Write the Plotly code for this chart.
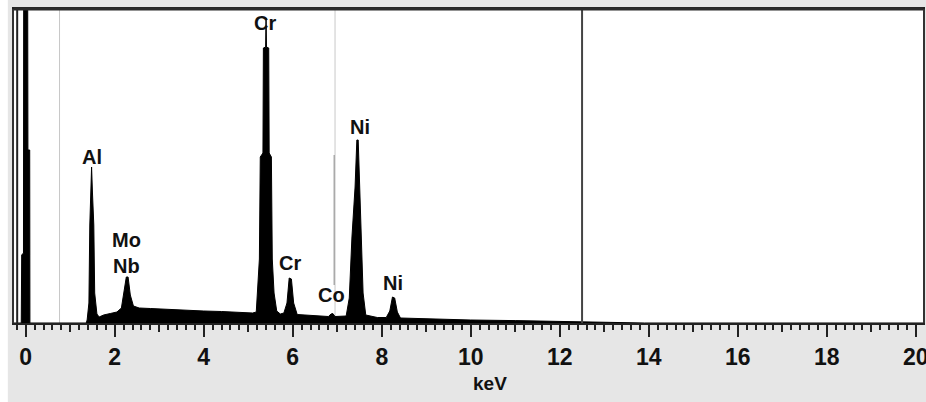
import plotly.graph_objects as go

# EDS spectrum: energy (keV) vs. counts
kev = [-0.263, -0.10, -0.09, -0.05, -0.045, 0.045, 0.05, 0.09, 0.095,
       1.36, 1.38, 1.42, 1.44, 1.46, 1.48, 1.50, 1.53, 1.55, 1.60,
       1.65, 1.75, 1.90, 2.05, 2.15, 2.21, 2.26, 2.30, 2.35, 2.42,
       2.55, 2.80, 3.20, 3.60, 4.00, 4.40, 4.80, 5.10,
       5.18, 5.22, 5.25, 5.27, 5.33, 5.34, 5.39, 5.40, 5.41, 5.46, 5.47,
       5.52, 5.54, 5.58, 5.64, 5.72,
       5.80, 5.87, 5.92, 5.97, 6.02, 6.10,
       6.40, 6.80, 6.86, 6.90, 6.95, 7.20,
       7.27, 7.33, 7.40, 7.44, 7.47, 7.51, 7.54, 7.58, 7.64,
       7.90, 8.10, 8.18, 8.24, 8.29, 8.35, 8.42,
       9.0, 10.0, 11.0, 12.0, 12.6, 13.4, 13.9, 20.16]
counts = [0, 0, 680, 700, 3300, 3300, 1730, 1730, 0,
          0, 30, 200, 980, 1300, 1560, 1300, 980, 300, 90,
          60, 80, 95, 110, 150, 300, 460, 460, 280, 170,
          150, 145, 135, 130, 120, 115, 105, 100,
          110, 400, 640, 1660, 1700, 2750, 2760, 3050, 2760, 2750, 1700,
          1660, 640, 300, 120, 90,
          100, 200, 450, 440, 200, 85,
          75, 65, 90, 95, 65, 70,
          250, 860, 1360, 1830, 1830, 1360, 860, 300, 80,
          55, 55, 120, 260, 250, 110, 50,
          40, 30, 24, 18, 12, 8, 0, 0]

# Element identification labels: (text, keV, counts position)
label_text = ["Al", "Mo", "Nb", "Cr", "Cr", "Co", "Ni", "Ni"]
label_kev = [1.49, 2.27, 2.27, 5.38, 5.94, 6.88, 7.51, 8.25]
label_pos = [1660, 830, 570, 3000, 600, 280, 1960, 400]

x_range = [-0.263, 20.16]
y_range = [0, 3140]
cursor_kev = 12.5
marker_kev = [0.76, 6.95]
co_marker = (6.93, 380, 1680)

FONT = "Liberation Sans, Arial, sans-serif"
INK = "#111111"

fig = go.Figure()

fig.add_trace(go.Scatter(
    x=kev, y=counts, mode="lines",
    line=dict(color="black", width=1),
    fill="tozeroy", fillcolor="black",
    hoverinfo="skip", showlegend=False,
))

# helper trace that carries the odd-keV tick axis
fig.add_trace(go.Scatter(
    x=[x_range[0]], y=[0], xaxis="x2", yaxis="y",
    mode="markers", marker=dict(opacity=0),
    hoverinfo="skip", showlegend=False,
))

shapes = []
for k in marker_kev:
    shapes.append(dict(type="line", xref="x", yref="paper", x0=k, x1=k, y0=0, y1=1,
                       line=dict(color="#c8c8c8", width=1), layer="below"))
shapes.append(dict(type="line", xref="x", yref="y", x0=co_marker[0], x1=co_marker[0],
                   y0=co_marker[1], y1=co_marker[2],
                   line=dict(color="#8a8a8a", width=1), layer="below"))
shapes.append(dict(type="line", xref="x", yref="paper", x0=cursor_kev, x1=cursor_kev,
                   y0=0, y1=1, line=dict(color="#444444", width=2)))
# inner rule of the double left frame
shapes.append(dict(type="line", xref="paper", yref="paper", x0=0.0035, x1=0.0035,
                   y0=0, y1=1, line=dict(color="#222222", width=2)))
# heavier top edge of the frame
shapes.append(dict(type="line", xref="paper", yref="paper", x0=0, x1=1,
                   y0=1, y1=1, line=dict(color="#2a2a2a", width=3)))
# white strip along the left page edge
shapes.append(dict(type="rect", xref="paper", yref="paper", x0=-0.02, x1=-0.0068,
                   y0=-0.3, y1=1.05, line=dict(width=0), fillcolor="white", layer="below"))

annotations = [
    dict(x=k, y=p, xref="x", yref="y", text=t, showarrow=False,
         font=dict(family=FONT, size=20, color=INK, weight="bold"))
    for t, k, p in zip(label_text, label_kev, label_pos)
]
annotations.append(dict(x=10.43, y=-60 / 314, xref="x", yref="paper", text="keV",
                        showarrow=False, yanchor="middle",
                        font=dict(family=FONT, size=19, color=INK, weight="bold")))

fig.update_layout(
    width=926, height=402,
    margin=dict(l=14, r=3, t=9, b=79, pad=0, autoexpand=False),
    paper_bgcolor="#e6e6e6", plot_bgcolor="white",
    shapes=shapes, annotations=annotations,
    xaxis=dict(
        range=x_range, showgrid=False, zeroline=False, automargin=False,
        showline=True, linecolor="#222222", linewidth=2, mirror=True,
        ticks="outside", tickmode="linear", tick0=0, dtick=2,
        ticklen=12, tickwidth=2, tickcolor="#222222",
        ticklabeloverflow="allow",
        tickfont=dict(family=FONT, size=23, color=INK, weight="bold"),
        minor=dict(ticks="outside", tick0=0, dtick=0.2, ticklen=5,
                   tickwidth=1.5, tickcolor="#222222", showgrid=False),
    ),
    xaxis2=dict(
        range=x_range, overlaying="x", anchor="y", side="bottom",
        showgrid=False, zeroline=False, showline=False, automargin=False,
        ticks="outside", tickmode="linear", tick0=1, dtick=2,
        ticklen=8, tickwidth=2, tickcolor="#222222", showticklabels=False,
    ),
    yaxis=dict(
        range=y_range, showgrid=False, zeroline=False, automargin=False,
        showline=True, linecolor="#333333", linewidth=2, mirror=True,
        ticks="", showticklabels=False,
    ),
)

fig.write_html("out.html")
